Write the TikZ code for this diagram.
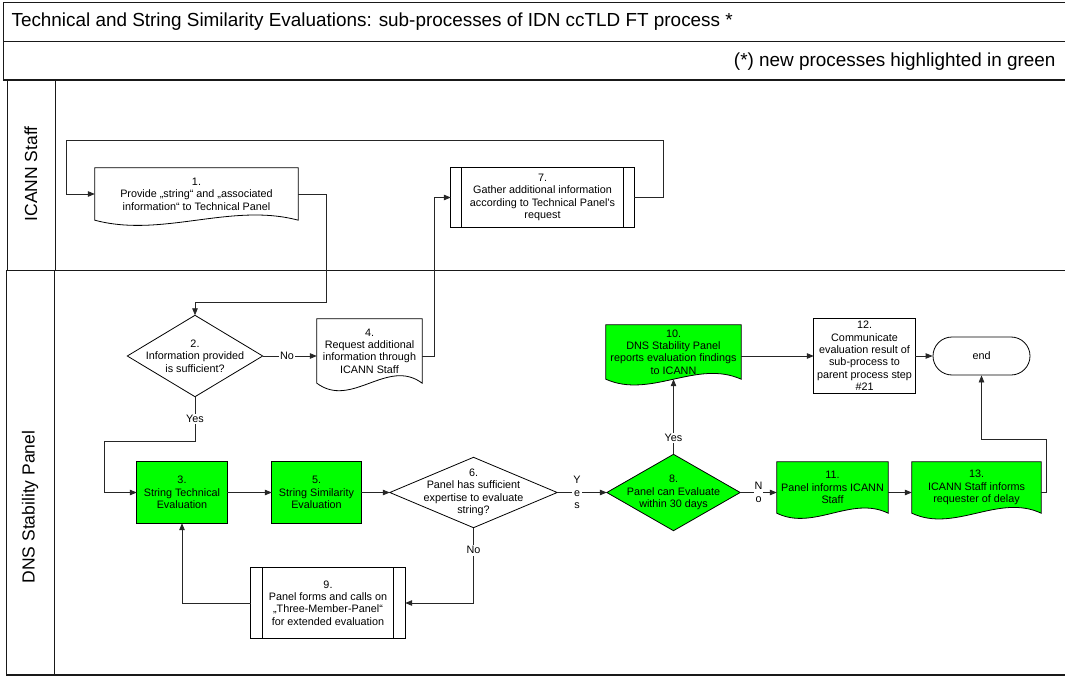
\documentclass[tikz,border=0pt]{standalone}
\usepackage{fontspec}
\setmainfont{Liberation Sans}
\usetikzlibrary{arrows.meta,calc,backgrounds}
\definecolor{newgreen}{RGB}{0,255,0}
\tikzset{
  box/.style={rectangle, inner sep=0pt, align=center, font=\fontsize{10.8}{12.4}\selectfont},
  conn/.style={draw=black!85, line width=0.8pt, -{Triangle[length=7pt,width=5.5pt]}},
  plainline/.style={draw=black!85, line width=0.8pt},
  lbl/.style={fill=white, inner sep=1.5pt, align=center, font=\fontsize{10.8}{12.8}\selectfont},
  outline/.style={draw=black, line width=0.8pt},
  frame/.style={draw=black!90, line width=1pt},
  lanelabel/.style={rotate=90, font=\fontsize{17.5}{20}\selectfont},
  headtext/.style={font=\fontsize{18.9}{22}\selectfont},
}
\newcommand{\docoutline}[3]{%
  \path[outline, fill=#2] (#1.north west) -- (#1.north east) -- (#1.south east)
    .. controls ($(#1.south east)!0.33!(#1.south west)+(0,-#3)$) and ($(#1.south east)!0.67!(#1.south west)+(0,#3)$) .. (#1.south west) -- cycle;}
\newcommand{\diaoutline}[2]{%
  \path[outline, fill=#2] (#1.north) -- (#1.east) -- (#1.south) -- (#1.west) -- cycle;}
\newcommand{\subproc}[2]{%
  \path[outline, fill=white] (#1.north west) rectangle (#1.south east);
  \draw[outline] ($(#1.north west)+(#2,0)$) -- ($(#1.south west)+(#2,0)$);
  \draw[outline] ($(#1.north east)+(-#2,0)$) -- ($(#1.south east)+(-#2,0)$);}
\begin{document}
\begin{tikzpicture}[x=1pt,y=-1pt]
\clip (0,0) rectangle (1065,679);
% ---------- frame ----------
\draw[frame] (3,3) rectangle (1080,42);
\draw[frame] (3,42) -- (3,80);
\draw[frame, line width=1.5pt] (3,80) -- (1080,80);
\node[anchor=west, headtext] (title) at (8,22) {Technical and String Similarity Evaluations: sub-processes of IDN ccTLD FT process *};
\node[anchor=east, headtext] (note) at (1059,62) {(*) new processes highlighted in green};
\draw[frame] (7,80) -- (7,270);
\draw[frame] (55,80) -- (55,270);
\draw[frame] (6,270) -- (1080,270);
\draw[frame] (6,270) -- (6,675);
\draw[frame] (54,270) -- (54,675);
\draw[frame, line width=1.5pt] (6,675) -- (1080,675);
\node[lanelabel] (laneA) at (31,174) {ICANN Staff};
\node[lanelabel] (laneB) at (30,507) {DNS Stability Panel};
% ---------- nodes ----------
\node[box, minimum width=203pt, minimum height=52pt] (n1) at (196.5,194) {1.\\Provide „string“ and „associated\\information“ to Technical Panel};
\node[box, minimum width=183pt, minimum height=59pt] (n7) at (542.5,197.5) {7.\\Gather additional information\\according to Technical Panel's\\request};
\node[box, minimum width=135pt, minimum height=81pt] (d2) at (195,356) {2.\\Information provided\\is sufficient?};
\node[box, minimum width=105pt, minimum height=64pt] (n4) at (369.5,351) {4.\\Request additional\\information through\\ICANN Staff};
\node[box, minimum width=90pt, minimum height=61pt] (n3) at (182,492.5) {3.\\String Technical\\Evaluation};
\node[box, minimum width=89pt, minimum height=61pt] (n5) at (316.5,492.5) {5.\\String Similarity\\Evaluation};
\node[box, minimum width=167pt, minimum height=70pt] (d6) at (473.5,492.5) {6.\\Panel has sufficient\\expertise to evaluate\\string?};
\node[box, minimum width=133pt, minimum height=76pt] (d8) at (673.5,492.5) {8.\\Panel can Evaluate\\within 30 days};
\node[box, minimum width=154pt, minimum height=70pt] (n9) at (328,603) {9.\\Panel forms and calls on\\„Three-Member-Panel“\\for extended evaluation};
\node[box, minimum width=135pt, minimum height=54pt] (n10) at (673.5,352) {10.\\DNS Stability Panel\\reports evaluation findings\\to ICANN};
\node[box, minimum width=101pt, minimum height=74pt] (n12) at (864.5,356) {12.\\Communicate\\evaluation result of\\sub-process to\\parent process step\\\#21};
\node[box, draw=black, line width=0.8pt, rounded corners=19pt, minimum width=97pt, minimum height=38pt] (endn) at (981.5,356) {end};
\node[box, minimum width=111pt, minimum height=51pt] (n11) at (832.5,487.5) {11.\\Panel informs ICANN\\Staff};
\node[box, minimum width=129pt, minimum height=51pt] (n13) at (976.5,487.5) {13.\\ICANN Staff informs\\requester of delay};
% ---------- shapes on background ----------
\begin{scope}[on background layer]
  \docoutline{n1}{white}{18}
  \subproc{n7}{11}
  \diaoutline{d2}{white}
  \docoutline{n4}{white}{26}
  \path[outline, fill=newgreen] (n3.north west) rectangle (n3.south east);
  \path[outline, fill=newgreen] (n5.north west) rectangle (n5.south east);
  \diaoutline{d6}{white}
  \diaoutline{d8}{newgreen}
  \subproc{n9}{11.5}
  \docoutline{n10}{newgreen}{20}
  \path[outline, fill=white] (n12.north west) rectangle (n12.south east);
  \docoutline{n11}{newgreen}{18}
  \docoutline{n13}{newgreen}{20}
\end{scope}
% ---------- connectors ----------
\coordinate (loopR) at (663,140);
\coordinate (loopL) at (66,140);
\coordinate (c1) at (326,302);
\coordinate (c3) at (104,441);
\coordinate (c5) at (1046,439);
\draw[conn] (n7.east) -| (loopR) -- (loopL) |- (n1.west);
\draw[conn] (n1.east) -| (c1) -| (d2.north);
\draw[conn] (d2.east) -- (d2.east -| n4.west) node[lbl, pos=0.45] {No};
\draw[conn] (n4.east |- d2.east) -- ++(12,0) |- (n7.west);
\draw[conn] (d2.south) |- (c3) node[lbl, pos=0.25] {Yes} |- (n3.west);
\draw[conn] (n3.east) -- (n5.west);
\draw[conn] (n5.east) -- (d6.west);
\draw[conn] (d6.east) -- (d8.west) node[lbl, pos=0.4, inner sep=1pt] {Y\\e\\s};
\draw[conn] (d6.south) |- (n9.east) node[lbl, pos=0.15] {No};
\draw[conn] (n9.west) -| (n3.south);
\draw[conn] (d8.north) -- (n10.south) node[lbl, pos=0.22] {Yes};
\draw[conn] (d8.east) -- (d8.east -| n11.west) node[lbl, pos=0.5, inner sep=1pt, font=\fontsize{10.8}{12.6}\selectfont] {N\\o};
\draw[conn] (n11.east |- d8.east) -- (n13.west |- d8.east);
\draw[conn] (n10.east |- n12.west) -- (n12.west);
\draw[conn] (n12.east) -- (endn.west);
\draw[conn] (n13.east |- d8.east) -| (c5) -| (endn.south);
\end{tikzpicture}
\end{document}
